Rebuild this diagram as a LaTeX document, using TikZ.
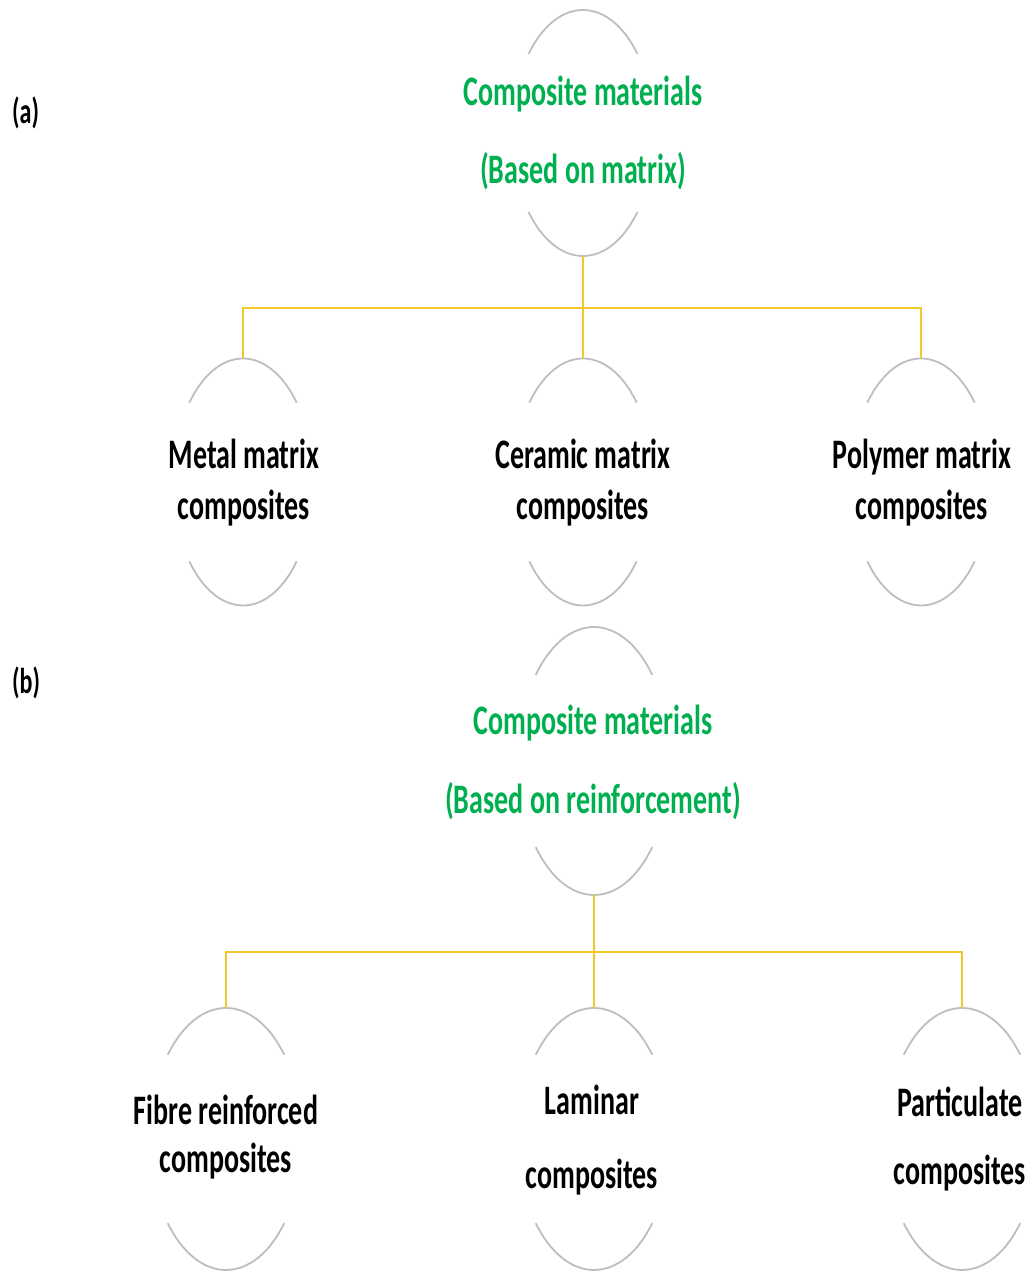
\documentclass[tikz,border=0pt]{standalone}
\usepackage{fontspec}
\usepackage{graphicx}
\setmainfont{Carlito}
\usetikzlibrary{calc,shapes.geometric}
\definecolor{txtgreen}{RGB}{0,176,80}
\definecolor{arcgray}{RGB}{190,190,190}
\definecolor{conngold}{RGB}{242,200,40}
\newcommand{\vstr}[1]{\scalebox{1}[1.5]{#1}}
\tikzset{
  ebox/.style={ellipse, draw=none, inner sep=0pt},
  arcline/.style={draw=arcgray, line width=1.8pt},
  conn/.style={draw=conngold, line width=2pt},
  greentxt/.style={anchor=base, inner sep=0pt, text=txtgreen, font=\fontsize{28}{34}\selectfont\bfseries},
  blacktxt/.style={anchor=base, inner sep=0pt, text=black, font=\fontsize{28}{34}\selectfont\bfseries},
  labeltxt/.style={anchor=base west, inner sep=0pt, text=black, font=\fontsize{24}{30}\selectfont\bfseries}
}
\newcommand{\ellarcs}[3]{%
  \draw[arcline] ($(#1.center)+(40:#2 and #3)$) arc[start angle=40, end angle=140, x radius=#2, y radius=#3];
  \draw[arcline] ($(#1.center)+(220:#2 and #3)$) arc[start angle=220, end angle=320, x radius=#2, y radius=#3];
}
\begin{document}
\begin{tikzpicture}[x=1pt,y=1pt]
\useasboundingbox (0,0) rectangle (1034,1272);
\fill[white] (0,0) rectangle (1034,1272);

% labels
\node[labeltxt] (la) at (12,1148) {\vstr{(a)}};
\node[labeltxt] (lb) at (12,578) {\vstr{(b)}};

% ---- (a) ----
\node[ebox, minimum width=142pt, minimum height=246pt] (A) at (583,1139) {};
\node[ebox, minimum width=140pt, minimum height=247pt] (A1) at (243,790) {};
\node[ebox, minimum width=140pt, minimum height=247pt] (A2) at (583,790) {};
\node[ebox, minimum width=140pt, minimum height=247pt] (A3) at (921,790) {};
\ellarcs{A}{71pt}{123pt}
\ellarcs{A1}{70pt}{123.5pt}
\ellarcs{A2}{70pt}{123.5pt}
\ellarcs{A3}{70pt}{123.5pt}

\node[greentxt] (At1) at (583,1166) {\vstr{Composite materials}};
\node[greentxt] (At2) at (583,1088) {\vstr{(Based on matrix)}};
\node[blacktxt] (A1t1) at (244,803) {\vstr{Metal matrix}};
\node[blacktxt] (A1t2) at (244,752) {\vstr{composites}};
\node[blacktxt] (A2t1) at (583,803) {\vstr{Ceramic matrix}};
\node[blacktxt] (A2t2) at (583,752) {\vstr{composites}};
\node[blacktxt] (A3t1) at (922,803) {\vstr{Polymer matrix}};
\node[blacktxt] (A3t2) at (922,752) {\vstr{composites}};

\coordinate (ja) at (583,964);
\draw[conn] (A.south) -- (ja);
\draw[conn] (ja) -| (A1.north);
\draw[conn] (ja) -| (A3.north);
\draw[conn] (ja) -- (A2.north);

% ---- (b) ----
\node[ebox, minimum width=152pt, minimum height=268pt] (B) at (594,511) {};
\node[ebox, minimum width=152pt, minimum height=262pt] (B1) at (226,133) {};
\node[ebox, minimum width=152pt, minimum height=262pt] (B2) at (594,133) {};
\node[ebox, minimum width=152pt, minimum height=262pt] (B3) at (962,133) {};
\ellarcs{B}{76pt}{134pt}
\ellarcs{B1}{76pt}{131pt}
\ellarcs{B2}{76pt}{131pt}
\ellarcs{B3}{76pt}{131pt}

\node[greentxt] (Bt1) at (593,537) {\vstr{Composite materials}};
\node[greentxt] (Bt2) at (593,458) {\vstr{(Based on reinforcement)}};
\node[blacktxt] (B1t1) at (226,147) {\vstr{Fibre reinforced}};
\node[blacktxt] (B1t2) at (226,99) {\vstr{composites}};
\node[blacktxt] (B2t1) at (592,157) {\vstr{Laminar}};
\node[blacktxt] (B2t2) at (592,83) {\vstr{composites}};
\node[blacktxt] (B3t1) at (960,155) {\vstr{Particulate}};
\node[blacktxt] (B3t2) at (960,87) {\vstr{composites}};

\coordinate (jb) at (594,320);
\draw[conn] (B.south) -- (jb);
\draw[conn] (jb) -| (B1.north);
\draw[conn] (jb) -| (B3.north);
\draw[conn] (jb) -- (B2.north);
\end{tikzpicture}
\end{document}
